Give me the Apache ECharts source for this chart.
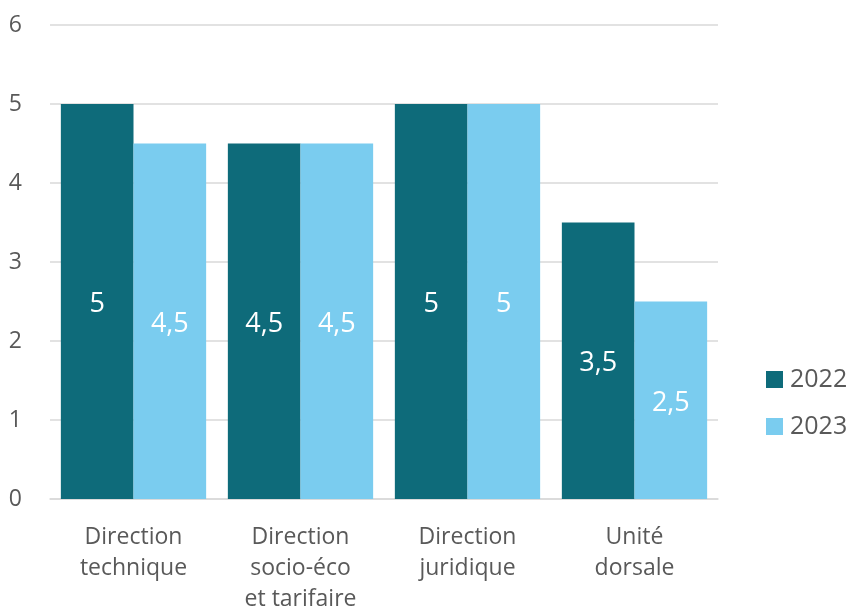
<!DOCTYPE html>
<html>
<head>
<meta charset="utf-8">
<script src="https://cdn.jsdelivr.net/npm/echarts@6/dist/echarts.min.js"></script>
<style>
  html, body { margin: 0; padding: 0; background: #ffffff; }
  #chart { width: 850px; height: 608px; }
</style>
</head>
<body>
<div id="chart"></div>
<script>
const categories = ['Direction\ntechnique', 'Direction\nsocio-éco\net tarifaire', 'Direction\njuridique', 'Unité\ndorsale'];
const values2022 = [5, 4.5, 5, 3.5];
const values2023 = [4.5, 4.5, 5, 2.5];
const yTicks = [0, 1, 2, 3, 4, 5, 6];

const FONT = '"Open Sans", "Noto Sans", sans-serif';
const fmt = v => String(v).replace('.', ',');

const valueLabel = {
  show: true,
  position: 'inside',
  offset: [0, 3],
  color: '#ffffff',
  fontFamily: FONT,
  fontSize: 27,
  formatter: p => fmt(p.value)
};

const chart = echarts.init(document.getElementById('chart'));
chart.setOption({
  animation: false,
  textStyle: { fontFamily: FONT },
  grid: { left: 50, right: 132, top: 25, bottom: 109, outerBoundsMode: 'none', containLabel: false },
  legend: {
    orient: 'vertical',
    left: 761,
    top: 362,
    icon: 'rect',
    itemWidth: 17,
    itemHeight: 17,
    itemGap: 22,
    textStyle: { fontFamily: FONT, fontSize: 25, color: '#595959', padding: [0, 0, 0, 2] },
    data: ['2022', '2023']
  },
  xAxis: {
    type: 'category',
    data: categories,
    axisTick: { show: false },
    axisLine: { lineStyle: { color: '#d9d9d9', width: 1.5 } },
    axisLabel: { fontFamily: FONT, fontSize: 23, color: '#595959', lineHeight: 31, margin: 23, interval: 0 }
  },
  yAxis: {
    type: 'value',
    min: yTicks[0],
    max: yTicks[yTicks.length - 1],
    interval: 1,
    axisLine: { show: false },
    axisTick: { show: false },
    splitLine: { lineStyle: { color: '#d9d9d9', width: 1.5 } },
    axisLabel: { fontFamily: FONT, fontSize: 23, color: '#595959', margin: 28, formatter: v => fmt(v) }
  },
  series: [
    {
      name: '2022',
      type: 'bar',
      data: values2022,
      barGap: '0%',
      barCategoryGap: '13%',
      itemStyle: { color: '#0e6b7a' },
      label: valueLabel
    },
    {
      name: '2023',
      type: 'bar',
      data: values2023,
      barGap: '0%',
      barCategoryGap: '13%',
      itemStyle: { color: '#7accef' },
      label: valueLabel
    }
  ]
});
</script>
</body>
</html>
